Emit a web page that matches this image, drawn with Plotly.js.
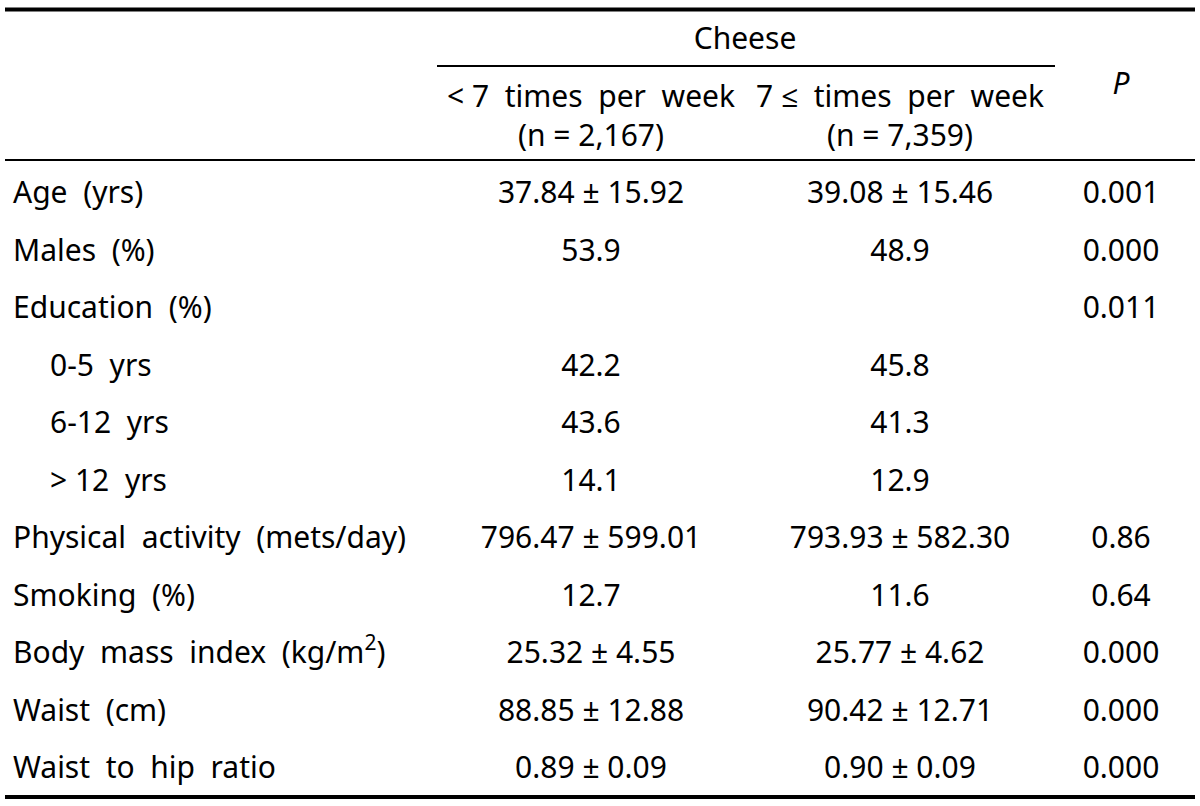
<!DOCTYPE html>
<html>
<head>
<meta charset="utf-8">
<script src="https://cdn.plot.ly/plotly-3.0.1.min.js"></script>
<style>html,body{margin:0;padding:0;background:#fff;}#chart{width:1200px;height:806px;}</style>
</head>
<body>
<div id="chart"></div>
<script>
// ---- data ----
const groupTitle = "Cheese";
const colHeaders = ["< 7  times  per  week<br>(n = 2,167)", "7 \u2264  times  per  week<br>(n = 7,359)"];
const pHeader = "<i>P</i>";
const rowLabels = [
  "Age  (yrs)",
  "Males  (%)",
  "Education  (%)",
  "0-5  yrs",
  "6-12  yrs",
  "> 12  yrs",
  "Physical  activity  (mets/day)",
  "Smoking  (%)",
  "Body  mass  index  (kg/m<sup>2</sup>)",
  "Waist  (cm)",
  "Waist  to  hip  ratio"
];
const subRows = ["0-5  yrs", "6-12  yrs", "> 12  yrs"];
const lessThan7 = [
  "37.84 \u00b1 15.92", "53.9", "", "42.2", "43.6", "14.1",
  "796.47 \u00b1 599.01", "12.7", "25.32 \u00b1 4.55", "88.85 \u00b1 12.88", "0.89 \u00b1 0.09"
];
const atLeast7 = [
  "39.08 \u00b1 15.46", "48.9", "", "45.8", "41.3", "12.9",
  "793.93 \u00b1 582.30", "11.6", "25.77 \u00b1 4.62", "90.42 \u00b1 12.71", "0.90 \u00b1 0.09"
];
const pValues = ["0.001", "0.000", "0.011", "", "", "", "0.86", "0.64", "0.000", "0.000", "0.000"];

// ---- layout geometry (pixel-like axis units) ----
const W = 1200, H = 806;
const FONT = "Noto Sans, Open Sans, sans-serif";
const FS = 30;
const rowY = rowLabels.map((_, i) => 195.5 + i * 57.5);
const labelX = rowLabels.map(l => subRows.includes(l) ? 50 : 13);
const col1X = 591, col2X = 900, pX = 1121;

function textTrace(xs, ys, texts, pos) {
  const keep = texts.map((t, i) => t !== "" ? i : -1).filter(i => i >= 0);
  return {
    type: "scatter", mode: "text",
    x: keep.map(i => xs[i]), y: keep.map(i => ys[i]), text: keep.map(i => texts[i]),
    textposition: pos, textfont: {family: FONT, size: FS, color: "#000"},
    hoverinfo: "skip", showlegend: false, cliponaxis: false
  };
}

const traces = [
  textTrace(labelX, rowY, rowLabels, "middle right"),
  textTrace(rowY.map(() => col1X), rowY, lessThan7, "middle center"),
  textTrace(rowY.map(() => col2X), rowY, atLeast7, "middle center"),
  textTrace(rowY.map(() => pX), rowY, pValues, "middle center"),
  textTrace([745], [41], [groupTitle], "middle center"),
  textTrace([col1X, col2X], [119, 119], colHeaders, "middle center"),
  textTrace([pX], [86], [pHeader], "middle center")
];

const shapes = [
  {type: "line", xref: "x", yref: "y", x0: 5, x1: 1195, y0: 9.5, y1: 9.5, line: {color: "#000", width: 4}},
  {type: "line", xref: "x", yref: "y", x0: 437, x1: 1055, y0: 66, y1: 66, line: {color: "#000", width: 2}},
  {type: "line", xref: "x", yref: "y", x0: 5, x1: 1195, y0: 160, y1: 160, line: {color: "#000", width: 2}},
  {type: "line", xref: "x", yref: "y", x0: 5, x1: 1195, y0: 797, y1: 797, line: {color: "#000", width: 4}}
];

const layout = {
  width: W, height: H,
  margin: {l: 0, r: 0, t: 0, b: 0, pad: 0},
  paper_bgcolor: "#fff", plot_bgcolor: "#fff",
  xaxis: {range: [0, W], visible: false, fixedrange: true},
  yaxis: {range: [H, 0], visible: false, fixedrange: true},
  shapes: shapes,
  showlegend: false
};

Plotly.newPlot("chart", traces, layout, {displayModeBar: false, staticPlot: true});
</script>
</body>
</html>
